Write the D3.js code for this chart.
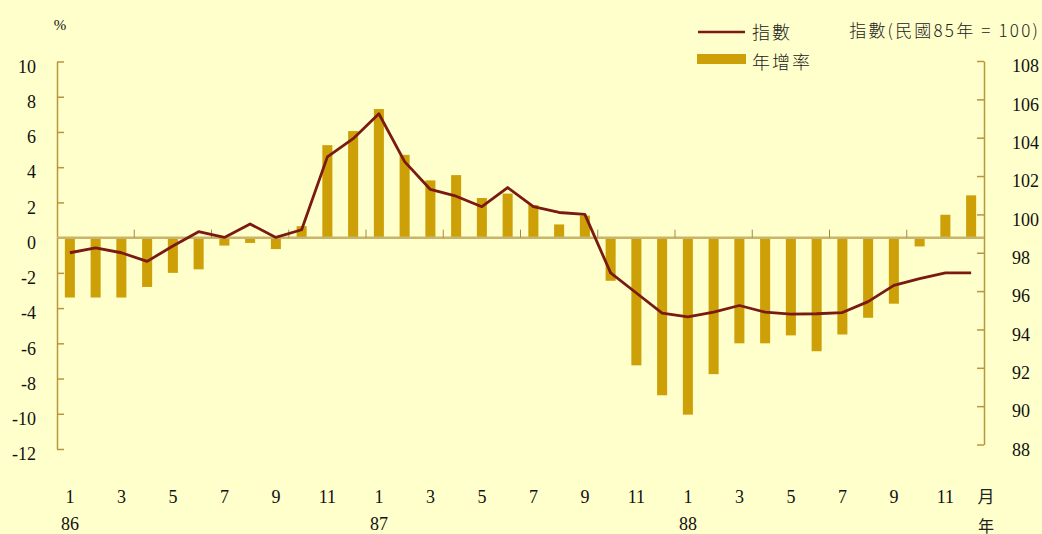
<!DOCTYPE html>
<html lang="zh-Hant">
<head>
  <meta charset="utf-8" />
  <title>指數與年增率</title>
  <script src="https://cdnjs.cloudflare.com/ajax/libs/d3/7.8.5/d3.min.js"></script>
  <style>
    html, body { margin: 0; padding: 0; background: #FFFFCC; }
    svg { display: block; }
    .num { font-family: "Liberation Serif", "DejaVu Serif", serif; fill: #111; }
    .cjk { font-family: "Noto Sans CJK TC", "Noto Sans CJK SC", sans-serif; fill: #222; }
  </style>
</head>
<body>
<svg id="chart" width="1042" height="534"></svg>
<script>
  // 民國86年1月 ~ 88年12月
  const years = [86, 87, 88];
  const months = [];
  years.forEach(function(y) {
    for (let m = 1; m <= 12; m++) months.push({ year: y, month: m });
  });

  // 年增率 (%)
  const growth = [
    -3.4, -3.4, -3.4, -2.8, -2.0, -1.8, -0.45, -0.3, -0.65, 0.65, 5.25, 6.05,
     7.3,  4.7,  3.25, 3.55, 2.25, 2.5,  1.85,  0.75,  1.25, -2.45, -7.25, -8.95,
   -10.05, -7.75, -6.0, -6.0, -5.55, -6.45, -5.5, -4.55, -3.75, -0.5, 1.3, 2.4
  ];

  // 指數 (民國85年 = 100)
  const index = [
    98.0, 98.25, 98.0, 97.55, 98.35, 99.1, 98.8, 99.5, 98.8, 99.2, 103.0, 103.95,
    105.25, 102.75, 101.3, 100.95, 100.4, 101.4, 100.4, 100.1, 100.0, 96.95, 95.9, 94.85,
    94.65, 94.9, 95.25, 94.9, 94.8, 94.82, 94.88, 95.45, 96.3, 96.65, 96.95, 96.95
  ];

  const leftTicks = [-12, -10, -8, -6, -4, -2, 0, 2, 4, 6, 8, 10];
  const rightTicks = [88, 90, 92, 94, 96, 98, 100, 102, 104, 106, 108];

  const svg = d3.select("#chart");
  const W = 1042, H = 534;
  const x0 = 57, x1 = 984;
  const axisColor = "#B8963C";

  svg.append("rect").attr("width", W).attr("height", H).attr("fill", "#FFFFCC");

  const x = d3.scaleBand()
    .domain(d3.range(months.length))
    .range([x0, x1])
    .paddingInner(0.61)
    .paddingOuter(0.305);
  const cx = function(i) { return x(i) + x.bandwidth() / 2; };

  const yL = d3.scaleLinear().domain([-12, 10]).range([449, 61.5]);
  const yR = d3.scaleLinear().domain([88, 108]).range([444.5, 61]);

  const plain = function(d) { return String(d); };

  // left axis
  const gl = svg.append("g")
    .attr("transform", "translate(" + x0 + ",0)")
    .call(d3.axisLeft(yL).tickValues(leftTicks).tickFormat(plain)
      .tickSizeInner(-7).tickSizeOuter(0).tickPadding(21));
  gl.select(".domain").attr("stroke", axisColor).attr("stroke-width", 1.5);
  gl.selectAll(".tick line").attr("stroke", axisColor).attr("stroke-width", 1.5);
  gl.selectAll(".tick text").attr("class", "num").attr("font-size", 18).attr("dy", "0.6em");

  // right axis
  const gr = svg.append("g")
    .attr("transform", "translate(" + x1 + ",0)")
    .call(d3.axisRight(yR).tickValues(rightTicks).tickFormat(plain)
      .tickSizeInner(-7).tickSizeOuter(0).tickPadding(28));
  gr.select(".domain").attr("stroke", axisColor).attr("stroke-width", 1.5);
  gr.selectAll(".tick line").attr("stroke", axisColor).attr("stroke-width", 1.5);
  gr.selectAll(".tick text").attr("class", "num").attr("font-size", 18).attr("dy", "0.6em");

  // bars
  svg.append("g").selectAll("rect")
    .data(growth)
    .enter()
    .append("rect")
    .attr("x", function(d, i) { return x(i); })
    .attr("y", function(d) { return yL(Math.max(0, d)); })
    .attr("width", x.bandwidth())
    .attr("height", function(d) { return Math.abs(yL(d) - yL(0)); })
    .attr("fill", "#CCA006");

  // zero line with quarter ticks
  svg.append("line")
    .attr("x1", x0).attr("x2", x1)
    .attr("y1", yL(0)).attr("y2", yL(0))
    .attr("stroke", "#C8B46A").attr("stroke-width", 2.5);
  svg.append("g").selectAll("line")
    .data(d3.range(3, months.length, 3))
    .enter()
    .append("line")
    .attr("x1", function(i) { return x(i) - x.step() * x.paddingInner() / 2; })
    .attr("x2", function(i) { return x(i) - x.step() * x.paddingInner() / 2; })
    .attr("y1", yL(0)).attr("y2", yL(0) - 8)
    .attr("stroke", "#A08A4A").attr("stroke-width", 1);

  // index line
  const line = d3.line()
    .x(function(d, i) { return cx(i); })
    .y(function(d) { return yR(d); });
  svg.append("path")
    .datum(index)
    .attr("d", line)
    .attr("fill", "none")
    .attr("stroke", "#7A1A12")
    .attr("stroke-width", 2.8)
    .attr("stroke-linejoin", "round");

  // month labels
  svg.append("g").selectAll("text")
    .data(months.map(function(d, i) { return { d: d, i: i }; }).filter(function(o) { return o.d.month % 2 === 1; }))
    .enter()
    .append("text")
    .attr("class", "num")
    .attr("x", function(o) { return cx(o.i); })
    .attr("y", 503)
    .attr("text-anchor", "middle")
    .attr("font-size", 18)
    .text(function(o) { return o.d.month; });

  // year labels
  svg.append("g").selectAll("text")
    .data(months.map(function(d, i) { return { d: d, i: i }; }).filter(function(o) { return o.d.month === 1; }))
    .enter()
    .append("text")
    .attr("class", "num")
    .attr("x", function(o) { return cx(o.i); })
    .attr("y", 530)
    .attr("text-anchor", "middle")
    .attr("font-size", 18)
    .text(function(o) { return o.d.year; });

  svg.append("text").attr("class", "cjk").attr("x", 986).attr("y", 503)
    .attr("text-anchor", "middle").attr("font-size", 17).text("月");
  svg.append("text").attr("class", "cjk").attr("x", 986).attr("y", 532)
    .attr("text-anchor", "middle").attr("font-size", 16).text("年");

  // unit labels
  svg.append("text").attr("class", "num").attr("x", 60).attr("y", 30)
    .attr("text-anchor", "middle").attr("font-size", 15).text("%");
  svg.append("text").attr("class", "cjk").attr("x", 1040).attr("y", 37)
    .attr("text-anchor", "end").attr("font-size", 17).attr("font-weight", 300)
    .attr("letter-spacing", 2.2)
    .text("指數(民國85年 = 100)");

  // legend
  svg.append("line").attr("x1", 698).attr("x2", 745).attr("y1", 32).attr("y2", 32)
    .attr("stroke", "#7A1A12").attr("stroke-width", 2.5);
  svg.append("text").attr("class", "cjk").attr("x", 752).attr("y", 39)
    .attr("font-size", 18).attr("font-weight", 300).attr("letter-spacing", 2).text("指數");
  svg.append("rect").attr("x", 697).attr("y", 54).attr("width", 49).attr("height", 10)
    .attr("fill", "#CCA006");
  svg.append("text").attr("class", "cjk").attr("x", 752).attr("y", 69)
    .attr("font-size", 18).attr("font-weight", 300).attr("letter-spacing", 2).text("年增率");
</script>
</body>
</html>
